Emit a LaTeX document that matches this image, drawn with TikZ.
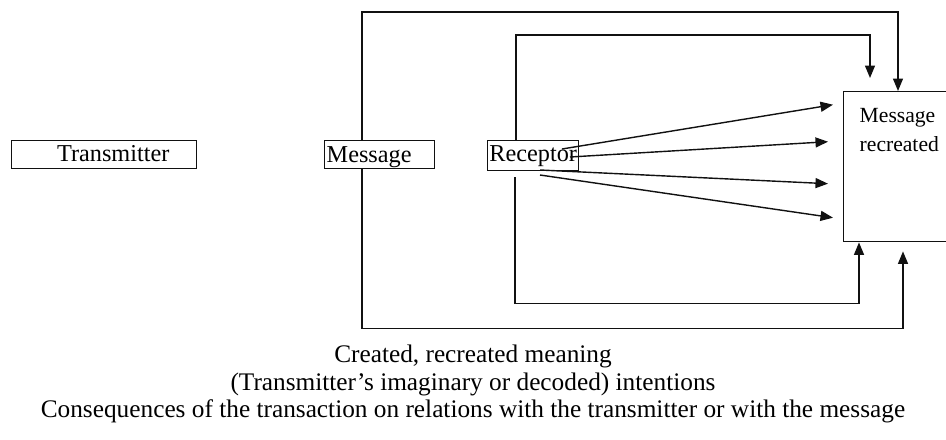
\documentclass[tikz,border=0pt]{standalone}
\usepackage{fontspec}
\setmainfont{Liberation Serif}
\usepackage{tikz}
\usetikzlibrary{arrows.meta,positioning,calc}
\definecolor{inkblack}{HTML}{111111}
\tikzset{
  box/.style={
    rectangle,
    draw=inkblack,
    line width=0.8pt,
    fill=white,
    inner sep=1pt,
    minimum height=5.6mm,
    font=\fontsize{13.8}{15}\selectfont
  },
  bigbox/.style={
    rectangle,
    draw=inkblack,
    line width=0.8pt,
    fill=white,
    minimum width=21mm,
    minimum height=30mm
  },
  note/.style={
    align=center,
    font=\fontsize{14.4}{15.9}\selectfont
  },
  arrow/.style={-{Triangle[length=2.5mm,width=2mm]},line width=0.8pt,draw=inkblack},
  wire/.style={line width=0.8pt,draw=inkblack}
}

\begin{document}
\begin{tikzpicture}[x=0.2mm,y=-0.2mm]
    \useasboundingbox (0,0) rectangle (946,439);

    % the chain of boxes
    \node[box,anchor=north west,minimum width=37mm,text depth=0.6mm] (trans) at (11,140) {\hspace*{3.6mm}Transmitter};
    \node[box,anchor=north west,minimum width=22mm,text width=21.2mm,align=left,inner sep=0.4pt,text depth=0.2mm] (msg) at (324,140) {Message};
    \node[box,anchor=north west,minimum width=18.2mm,minimum height=6mm,inner sep=0.2pt] (rec) at (487,140) {Receptor};
    \node[bigbox,anchor=north west,
      label={[name=rectext,anchor=north west,align=left,xshift=2.1mm,yshift=-2.3mm,
        font=\fontsize{12.3}{16.5}\selectfont]north west:Message\\recreated}] (recreated) at (843,91) {};

    % loose ends of the fan and the feedback lines
    \coordinate (s1) at ([xshift=15mm,yshift=-1.8mm]rec.north west);
    \coordinate (s2) at ([xshift=16.6mm,yshift=-3.4mm]rec.north west);
    \coordinate (s3) at ([xshift=10.6mm,yshift=-6mm]rec.north west);
    \coordinate (s4) at ([xshift=10.6mm,yshift=-7mm]rec.north west);
    \coordinate (f1) at ([xshift=-2mm,yshift=12.4mm]recreated.west);
    \coordinate (f2) at ([xshift=-3mm,yshift=5mm]recreated.west);
    \coordinate (f3) at ([xshift=-3mm,yshift=-3.4mm]recreated.west);
    \coordinate (f4) at ([xshift=-2mm,yshift=-10.2mm]recreated.west);
    \coordinate (innertip) at ([xshift=5.4mm,yshift=2.6mm]recreated.north west);
    \coordinate (outertip) at ([xshift=12mm,yshift=-1.8mm]recreated.south west);

    \draw[arrow] (s1) -- (f1);
    \draw[arrow] (s2) -- (f2);
    \draw[arrow] (s3) -- (f3);
    \draw[arrow] (s4) -- (f4);

    % loops over the top
    \draw[arrow] ([xshift=7.6mm]msg.north west) -- ++(0,-128) -| ([xshift=11mm]recreated.north west);
    \draw[arrow] ([xshift=5.8mm]rec.north west) -- ++(0,-105) -| (innertip);

    % loops underneath
    \draw[arrow] ([xshift=5.6mm,yshift=-1.2mm]rec.south west) -- ++(0,126) -| ([xshift=3.2mm]recreated.south west);
    \draw[arrow] ([xshift=7.6mm]msg.south west) -- ++(0,159) -| (outertip);

    \node[note] (caption) at (473,384) {Created, recreated meaning\\(Transmitter's imaginary or decoded) intentions\\Consequences of the transaction on relations with the transmitter or with the message};
  \end{tikzpicture}
\end{document}
